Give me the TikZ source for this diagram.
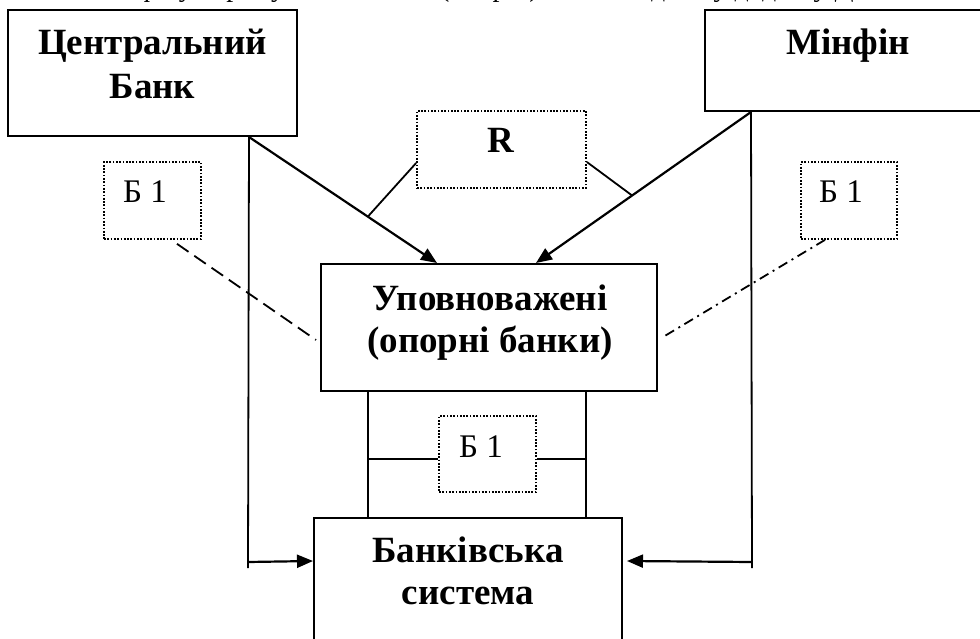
\documentclass[tikz,border=0pt]{standalone}
\usepackage{fontspec}
\setmainfont{Liberation Serif}
\usetikzlibrary{arrows.meta,calc}
\begin{document}
\begin{tikzpicture}[x=1pt,y=-1pt,
  box/.style={draw,line width=2pt,inner sep=0pt},
  dotbox/.style={draw,line width=1.7pt,dash pattern=on 1.7pt off 1.6pt,inner sep=0pt},
  big/.style={font=\fontsize{37}{42}\selectfont\bfseries,anchor=base,inner sep=0pt},
  small/.style={font=\fontsize{33}{38}\selectfont,anchor=base,inner sep=0pt},
  toptext/.style={overlay,font=\fontsize{28}{30}\selectfont,inner sep=0pt},
  conn/.style={line width=1.8pt},
  thin/.style={line width=1.3pt},
  arr/.style={line width=2.2pt,-{Triangle[length=16pt,width=13pt]}},
]
\useasboundingbox (0,0) rectangle (980,639);
\clip (0,0) rectangle (980,639);
\fill[white] (0,0) rectangle (980,639);

% top (cut) text line
\node[toptext,anchor=base east] (topa) at (436,-3) {Мінфіну через уповноважені};
\node[toptext,anchor=base west] (topb) at (440,-3) {(опорні) банки подано у додатку Д};

% boxes
\node[box,minimum width=289pt,minimum height=126pt] (cb) at (152.5,73) {};
\node[box,minimum width=286pt,minimum height=101pt,overlay] (mf) at (848,60.5) {};
\node[dotbox,minimum width=169pt,minimum height=77pt] (r) at (501.5,149.5) {};
\node[box,minimum width=336pt,minimum height=127pt] (opt) at (489,327.5) {};
\node[box,minimum width=308pt,minimum height=162pt,overlay] (bs) at (468,599) {};
\node[dotbox,minimum width=97pt,minimum height=77pt] (b1l) at (152.5,200.5) {};
\node[dotbox,minimum width=96pt,minimum height=77pt] (b1r) at (849,200.5) {};
\node[dotbox,minimum width=97pt,minimum height=76pt] (b1m) at (487.5,454) {};

% texts
\node[big] (t1) at (152.5,55) {Центральний};
\node[big] (t2) at (152.5,99) {Банк};
\node[big] (t3) at (848,55) {Мінфін};
\node[big] (t4) at (490,310) {Уповноважені};
\node[big] (t5) at (490,352) {(опорні банки)};
\node[big] (t6) at (468,562) {Банківська};
\node[big] (t7) at (468,604) {система};
\node[big] (t8) at (501,153) {R};
\node[small] (t9) at (145,203) {Б 1};
\node[small] (t10) at (841,203) {Б 1};
\node[small] (t11) at (481,457) {Б 1};

% coordinates
\coordinate (cbo) at ([xshift=-49pt]cb.south east);
\coordinate (mfo) at ([xshift=47pt]mf.south west);
\coordinate (optA) at ([xshift=117pt]opt.north west);
\coordinate (optB) at ([xshift=216pt]opt.north west);
\coordinate (lend) at (248,568);
\coordinate (rend) at (752,568);
\coordinate (lh) at (248,562);
\coordinate (rh) at (752,562);
\coordinate (ml) at ([xshift=48pt]opt.south west);
\coordinate (mr) at ([xshift=-72pt]opt.south east);
\coordinate (b1mw) at ([yshift=-5pt]b1m.west);
\coordinate (b1me) at ([yshift=-5pt]b1m.east);

% main arrows
\draw[arr] (cbo) -- (optA);
\draw[arr] (mfo) -- (optB);
\draw[conn] ([yshift=-13.5pt]r.west) -- ($(cbo)!0.632!(optA)$);
\draw[conn] ([yshift=-12.5pt]r.east) -- ($(mfo)!0.553!(optB)$);

% long verticals and side arrows
\draw[conn] (cbo) -- (lend);
\draw[conn] (mfo) -- (rend);
\draw[arr] (lh) -- ([yshift=-44pt]bs.north west);
\draw[arr] (rh) -- ([xshift=4pt,yshift=-44pt]bs.north east);

% middle links
\draw[conn] (ml) -- (ml |- bs.north);
\draw[conn] (mr) -- (mr |- bs.north);
\draw[thin] (ml |- b1mw) -- (b1mw);
\draw[thin] (b1me) -- (mr |- b1me);

% dashed links from side boxes
\draw[conn,dash pattern=on 14pt off 7pt] ([xshift=24.5pt,yshift=-4pt]b1l.south) -- ([xshift=-4pt,yshift=-12.5pt]opt.west);
\draw[conn,dash pattern=on 10pt off 5pt on 2pt off 5pt] ([xshift=-24pt]b1r.south) -- ([xshift=5pt,yshift=-9.5pt]opt.east);
\end{tikzpicture}
\end{document}
